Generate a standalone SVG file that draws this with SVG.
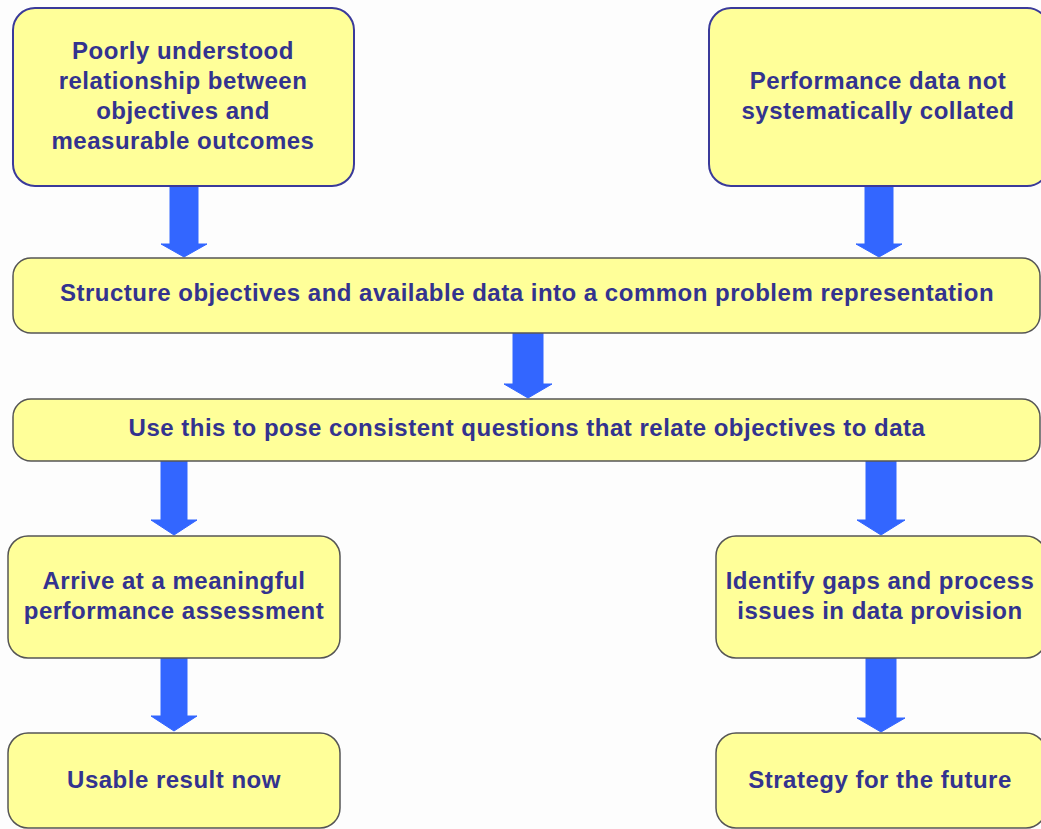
<svg xmlns="http://www.w3.org/2000/svg" width="1041" height="829" viewBox="0 0 1041 829">
  <defs>
    <style>
      .box { fill: #ffff99; stroke: #555555; stroke-width: 1.5; }
      .box.top { stroke: #3a3a9a; stroke-width: 2; }
      .label { font-family: "Liberation Sans", Arial, sans-serif; font-weight: bold; font-size: 24px; letter-spacing: 0.5px; fill: #33338f; text-anchor: middle; }
      .arrow { fill: #3366ff; stroke: #3366ff; stroke-width: 1; stroke-linejoin: round; }
    </style>
  </defs>
  <rect width="1041" height="829" fill="#fdfdfd"/>

  <!-- thick block arrows pointing down; each path's origin is the arrow tip -->
  <g id="connectors" class="arrow">
    <path transform="translate(184,257)" d="M -14 -71 L 14 -71 L 14 -13 L 23 -13 L 0 0 L -23 -13 L -14 -13 Z"/>
    <path transform="translate(879,257)" d="M -14 -71 L 14 -71 L 14 -13 L 23 -13 L 0 0 L -23 -13 L -14 -13 Z"/>
    <path transform="translate(528,398)" d="M -15 -65 L 15 -65 L 15 -14 L 24 -14 L 0 0 L -24 -14 L -15 -14 Z"/>
    <path transform="translate(174,535)" d="M -13 -74 L 13 -74 L 13 -15 L 23 -15 L 0 0 L -23 -15 L -13 -15 Z"/>
    <path transform="translate(881,535)" d="M -15 -74 L 15 -74 L 15 -15 L 24 -15 L 0 0 L -24 -15 L -15 -15 Z"/>
    <path transform="translate(174,731)" d="M -13 -73 L 13 -73 L 13 -15 L 23 -15 L 0 0 L -23 -15 L -13 -15 Z"/>
    <path transform="translate(881,732)" d="M -15 -74 L 15 -74 L 15 -14 L 24 -14 L 0 0 L -24 -14 L -15 -14 Z"/>
  </g>

  <g id="node-poorly-understood">
    <rect class="box top" x="13" y="8" width="341" height="178" rx="22"/>
    <text class="label" x="183" y="59">Poorly understood</text>
    <text class="label" x="183" y="89">relationship between</text>
    <text class="label" x="183" y="119">objectives and</text>
    <text class="label" x="183" y="149">measurable outcomes</text>
  </g>

  <g id="node-performance-data">
    <rect class="box top" x="709" y="8" width="340" height="178" rx="22"/>
    <text class="label" x="878" y="89">Performance data not</text>
    <text class="label" x="878" y="119">systematically collated</text>
  </g>

  <g id="node-structure">
    <rect class="box" x="13" y="258" width="1027" height="75" rx="18"/>
    <text class="label" x="527" y="301">Structure objectives and available data into a common problem representation</text>
  </g>

  <g id="node-pose-questions">
    <rect class="box" x="13" y="399" width="1027" height="62" rx="18"/>
    <text class="label" x="527" y="436">Use this to pose consistent questions that relate objectives to data</text>
  </g>

  <g id="node-assessment">
    <rect class="box" x="8" y="536" width="332" height="122" rx="20"/>
    <text class="label" x="174" y="589">Arrive at a meaningful</text>
    <text class="label" x="174" y="619">performance assessment</text>
  </g>

  <g id="node-usable-result">
    <rect class="box" x="8" y="733" width="332" height="95" rx="20"/>
    <text class="label" x="174" y="788">Usable result now</text>
  </g>

  <g id="node-identify-gaps">
    <rect class="box" x="716" y="536" width="330" height="122" rx="20"/>
    <text class="label" x="880" y="589">Identify gaps and process</text>
    <text class="label" x="880" y="619">issues in data provision</text>
  </g>

  <g id="node-strategy">
    <rect class="box" x="716" y="733" width="330" height="95" rx="20"/>
    <text class="label" x="880" y="788">Strategy for the future</text>
  </g>
</svg>
